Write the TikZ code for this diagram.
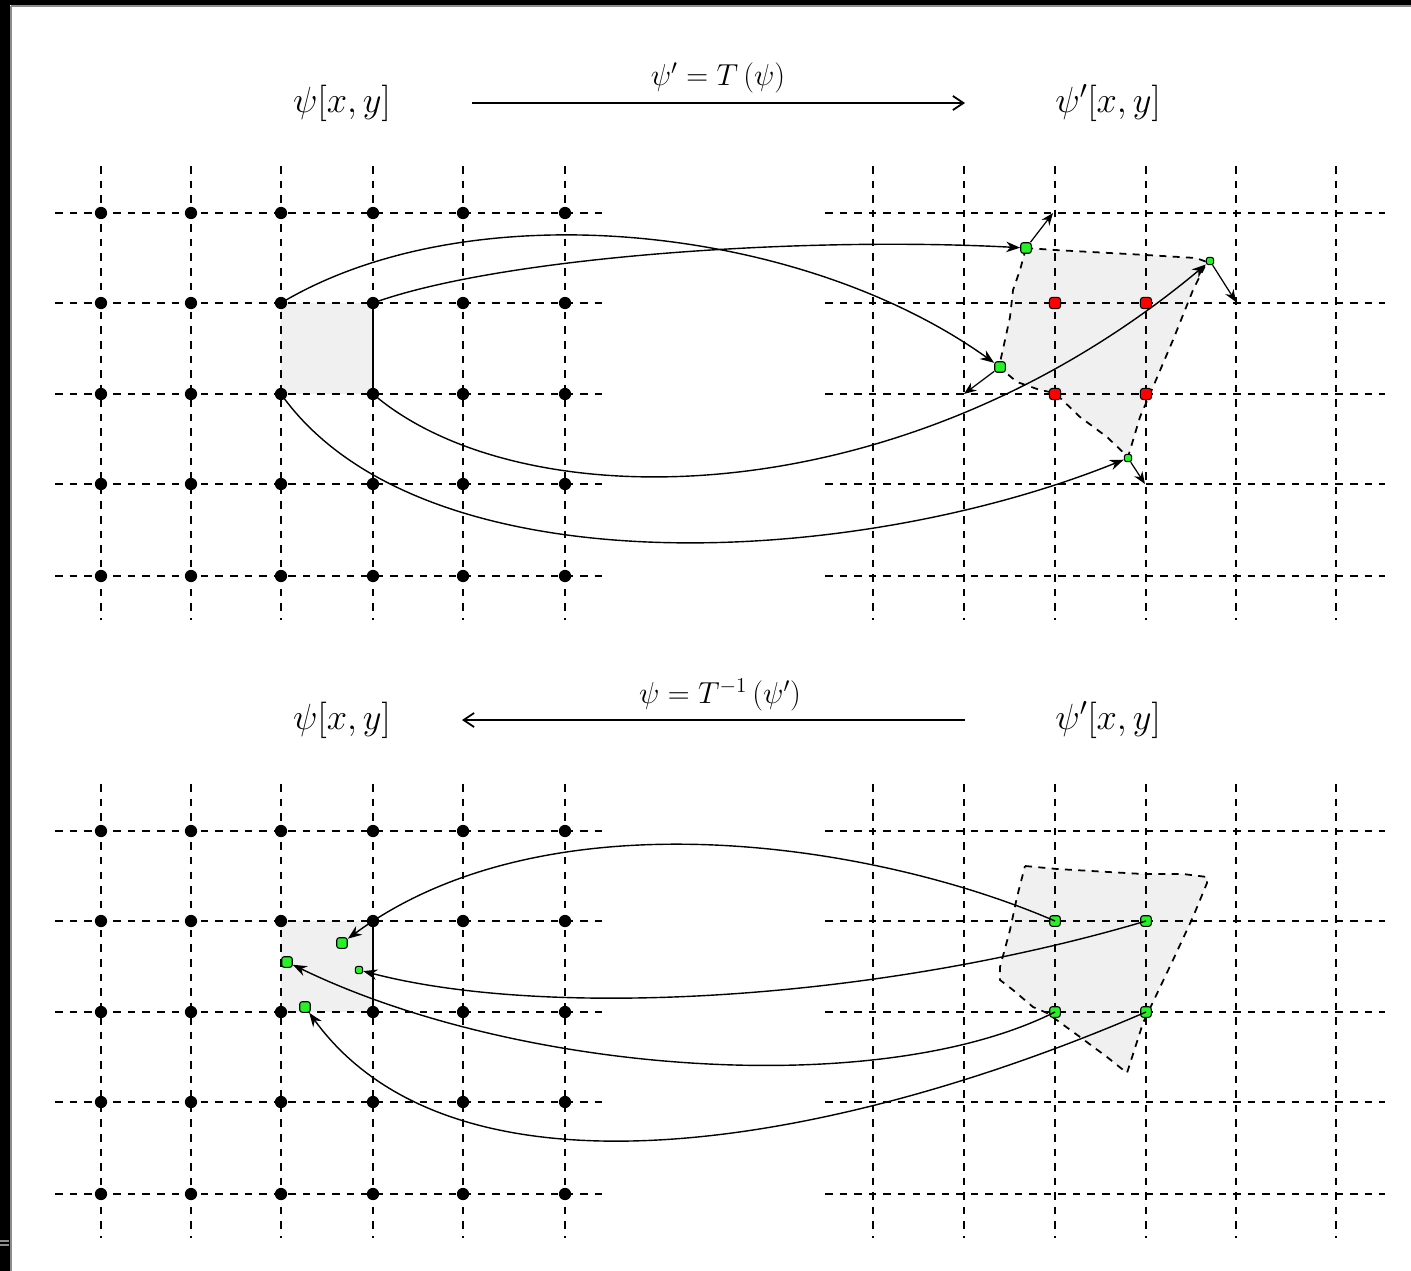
\documentclass[tikz,border=0pt]{standalone}
\usetikzlibrary{arrows.meta}
\definecolor{brightgreen}{RGB}{40,240,40}
\begin{document}
\begin{tikzpicture}[x=0.02cm,y=-0.02cm,
  gridline/.style={line width=1.1pt,dash pattern=on 4.3pt off 4pt},
  polyline/.style={line width=1pt,dash pattern=on 4pt off 3.6pt},
  gdot/.style={circle,fill=black,inner sep=0pt,minimum size=7pt},
  greendot/.style={rectangle,rounded corners=1.4pt,draw=black,line width=0.6pt,fill=brightgreen,inner sep=0pt,minimum size=6pt},
  smallgreen/.style={greendot,minimum size=4.2pt},
  reddot/.style={rectangle,rounded corners=1.8pt,draw=black,line width=0.6pt,fill=red,inner sep=0pt,minimum size=6.5pt},
  curve/.style={line width=0.8pt,-{Stealth[length=8pt,width=6pt]}},
  vec/.style={line width=0.7pt,-{Stealth[length=7pt,width=5.5pt]}},
  mainarrow/.style={line width=1pt,-{Straight Barb[length=6pt,width=8pt]}},
  lbl/.style={inner sep=0pt,font=\fontsize{20.5}{24}\selectfont},
  eqlbl/.style={inner sep=0pt,font=\fontsize{17.5}{21}\selectfont}]
\useasboundingbox (0,0) rectangle (1411,1271);
% frame
\fill[black] (0,0) rectangle (1411,5);
\fill[black] (0,0) rectangle (10,1271);
\draw[black!45,line width=0.6pt] (11,6) -- (1411,6);
\draw[black!45,line width=0.6pt] (11,6) -- (11,1271);
\draw[black!45,line width=0.8pt] (0,1241) -- (9,1241) (0,1245) -- (9,1245);
% grid coordinates
\foreach \x [count=\i] in {101,191,281,373,463,565} {
  \foreach \y [count=\j] in {213,303,394,484,576} {
    \coordinate (T\i-\j) at (\x,\y);
    \coordinate (B\i-\j) at (\x,\y+618);
  }
}
\foreach \x [count=\i] in {873,964,1055,1146,1236,1336} {
  \foreach \y [count=\j] in {213,303,394,484,576} {
    \coordinate (TR\i-\j) at (\x,\y);
    \coordinate (BR\i-\j) at (\x,\y+618);
  }
}
% shaded areas
\fill[black!6] (T3-2) rectangle (T4-3);
\fill[black!6] (B3-2) rectangle (B4-3);
\fill[black!6] (1026,248) -- (1055,250) -- (1146,255) -- (1196,258) -- (1207,262)
  -- (1193,290) -- (1173,340) -- (1153,387) -- (1140,417) -- (1128,457)
  -- (1107,437) -- (1080,417) -- (1055,393) -- (1040,390) -- (1017,382) -- (999,367)
  -- (1005,340) -- (1010,317) -- (1013,290) -- (1020,270) -- cycle;
\fill[black!6] (1025,866) -- (1057,869) -- (1143,874) -- (1183,874) -- (1207,877) -- (1207,883)
  -- (1193,917) -- (1173,960) -- (1143,1023) -- (1127,1073)
  -- (1107,1057) -- (1080,1037) -- (1047,1013) -- (1033,1007) -- (1013,990) -- (1000,980)
  -- (1000,967) -- (1010,930) -- (1017,897) -- cycle;
% grid lines
\foreach \y in {213,303,394,484,576} {
  \draw[gridline] (55,\y) -- (608,\y);
  \draw[gridline] (825,\y) -- (1385,\y);
  \draw[gridline] (55,\y+618) -- (608,\y+618);
  \draw[gridline] (825,\y+618) -- (1385,\y+618);
}
\foreach \x in {101,191,281,373,463,565,873,964,1055,1146,1236,1336} {
  \draw[gridline] (\x,166) -- (\x,620);
  \draw[gridline] (\x,784) -- (\x,1238);
}
% polygon outlines
\draw[polyline] (1026,248) -- (1055,250) -- (1146,255) -- (1196,258) -- (1207,262)
  -- (1193,290) -- (1173,340) -- (1153,387) -- (1140,417) -- (1128,457)
  -- (1107,437) -- (1080,417) -- (1055,393) -- (1040,390) -- (1017,382) -- (999,367)
  -- (1005,340) -- (1010,317) -- (1013,290) -- (1020,270) -- cycle;
\draw[polyline] (1025,866) -- (1057,869) -- (1143,874) -- (1183,874) -- (1207,877) -- (1207,883)
  -- (1193,917) -- (1173,960) -- (1143,1023) -- (1127,1073)
  -- (1107,1057) -- (1080,1037) -- (1047,1013) -- (1033,1007) -- (1013,990) -- (1000,980)
  -- (1000,967) -- (1010,930) -- (1017,897) -- cycle;
% solid square edges
\draw[line width=1.1pt] (T4-2) -- (T4-3);
\draw[line width=1.1pt] (B4-2) -- (B4-3);
% grid dots
\foreach \i in {1,...,6} {
  \foreach \j in {1,...,5} {
    \node[gdot] (dT\i-\j) at (T\i-\j) {};
    \node[gdot] (dB\i-\j) at (B\i-\j) {};
  }
}
% labels and main arrows
\node[lbl] (psiT) at (342,103) {$\psi[x,y]$};
\node[lbl] (psipT) at (1108,103) {$\psi'[x,y]$};
\node[eqlbl] (eqT) at (718,78) {$\psi' = T\,(\psi)$};
\coordinate (aT1) at (472,103);
\coordinate (aT2) at (965,103);
\draw[mainarrow] (aT1) -- (aT2);
\node[lbl] (psiB) at (342,720) {$\psi[x,y]$};
\node[lbl] (psipB) at (1108,720) {$\psi'[x,y]$};
\node[eqlbl] (eqB) at (720,695) {$\psi = T^{-1}\,(\psi')$};
\coordinate (aB1) at (965,720);
\coordinate (aB2) at (462,720);
\draw[mainarrow] (aB1) -- (aB2);
% top panel: transformed points
\node[reddot] (r1) at (TR3-2) {};
\node[reddot] (r2) at (TR4-2) {};
\node[reddot] (r3) at (TR3-3) {};
\node[reddot] (r4) at (TR4-3) {};
\node[greendot] (qA) at (1026,248) {};
\node[smallgreen] (qB) at (1210,261) {};
\node[greendot] (qC) at (1000,367) {};
\node[smallgreen] (qD) at (1128,458) {};
\coordinate (vA) at (1053,213);
\coordinate (vB) at (1236,302);
\coordinate (vC) at (964,394);
\coordinate (vD) at (1145,484);
\draw[vec] (qA) -- (vA);
\draw[vec] (qB) -- (vB);
\draw[vec] (qC) -- (vC);
\draw[vec] (qD) -- (vD);
% top panel curves
\draw[curve] (dT3-2.center) .. controls (470,190) and (800,224) .. (qC);
\draw[curve] (dT4-2.center) .. controls (500,257) and (800,236) .. (qA);
\draw[curve] (dT4-3.center) .. controls (520,520) and (900,520) .. (qB);
\draw[curve] (dT3-3.center) .. controls (420,590) and (850,570) .. (qD);
% bottom panel: green points
\node[greendot] (g1) at (BR3-2) {};
\node[greendot] (g2) at (BR4-2) {};
\node[greendot] (g3) at (BR3-3) {};
\node[greendot] (g4) at (BR4-3) {};
\node[greendot] (p1) at (342,943) {};
\node[smallgreen] (p2) at (359,970) {};
\node[greendot] (p3) at (287,962) {};
\node[greendot] (p4) at (305,1007) {};
% bottom panel curves
\draw[curve] (g1.center) .. controls (880,845) and (550,790) .. (p1);
\draw[curve] (g2.center) .. controls (880,1000) and (550,1020) .. (p2);
\draw[curve] (g3.center) .. controls (880,1100) and (520,1075) .. (p3);
\draw[curve] (g4.center) .. controls (850,1140) and (460,1220) .. (p4);
\end{tikzpicture}
\end{document}
